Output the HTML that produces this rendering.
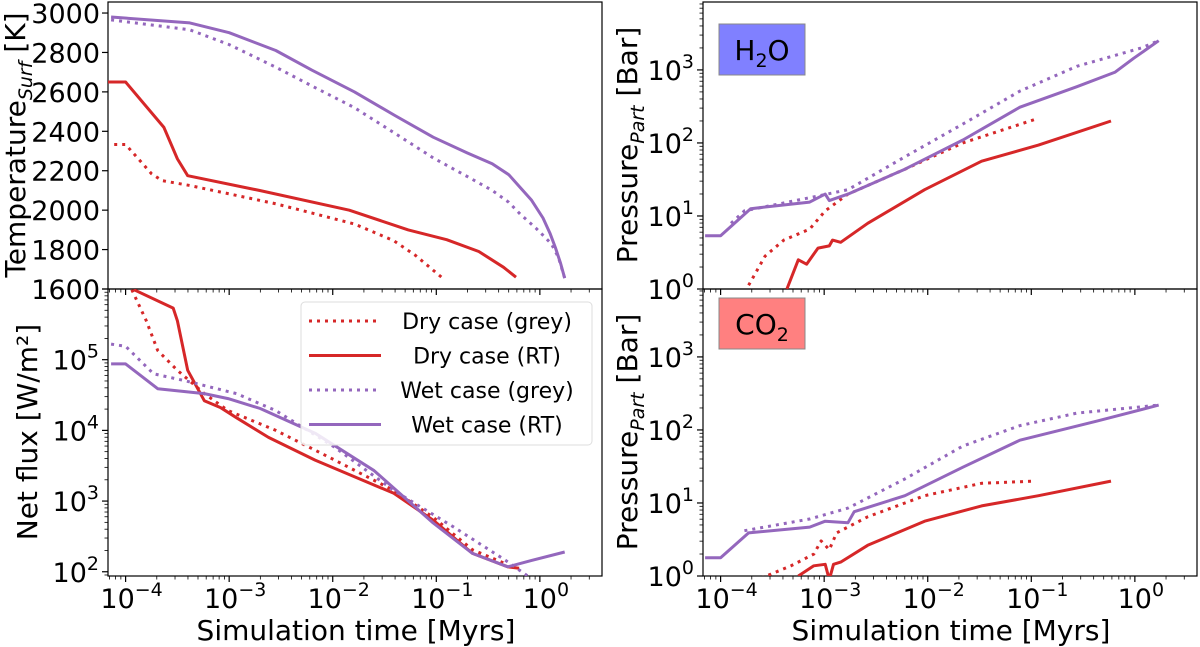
<!DOCTYPE html>
<html><head><meta charset="utf-8"><style>
html,body{margin:0;padding:0;background:#fff;}
svg{display:block;font-family:"DejaVu Sans","Liberation Sans",sans-serif;}
</style></head><body>
<svg id="chart" width="1200" height="647" viewBox="0 0 1200 647" xmlns="http://www.w3.org/2000/svg"></svg>
<script>
// ---- data (x = log10 time [Myrs]) ----
const tDryRTx=[-4.17,-4.0,-3.63,-3.5,-3.4,-2.71,-1.84,-1.27,-0.9,-0.59,-0.35,-0.23];
const tDryRTy=[2650,2650,2420,2260,2175,2100,2000,1900,1850,1790,1710,1660];
const tDryGx=[-4.11,-4.0,-3.75,-3.65,-3.38,-2.55,-1.79,-1.41,-1.2,-0.95];
const tDryGy=[2333,2333,2185,2150,2125,2032,1930,1845,1770,1660];
const tWetRTx=[-4.14,-3.38,-3.0,-2.55,-2.2,-1.79,-1.4,-1.03,-0.7,-0.46,-0.3,-0.19,-0.08,0.03,0.10,0.15,0.20,0.24];
const tWetRTy=[2980,2950,2900,2810,2710,2600,2480,2370,2290,2235,2180,2115,2050,1960,1880,1810,1730,1655];
const tWetGx=[-4.14,-3.38,-3.0,-2.55,-2.2,-1.79,-1.4,-1.03,-0.7,-0.46,-0.3,-0.19,-0.04,0.11,0.18,0.24];
const tWetGy=[2965,2915,2840,2725,2630,2520,2390,2265,2170,2100,2040,1980,1910,1830,1760,1655];

const fDryRTx=[-3.92,-3.54,-3.5,-3.4,-3.24,-3.08,-2.93,-2.62,-2.17,-1.41,-1.03,-0.65,-0.31,-0.2];
const fDryRTy=[5.99,5.73,5.55,4.85,4.42,4.32,4.18,3.90,3.58,3.11,2.73,2.26,2.07,2.05];
const fDryGx=[-3.94,-3.80,-3.69,-3.5,-3.24,-3.01,-2.55,-1.98,-1.41,-1.03,-0.65,-0.34];
const fDryGy=[5.99,5.55,5.13,4.85,4.52,4.28,4.0,3.58,3.15,2.77,2.31,2.12];
const fWetRTx=[-4.14,-4.0,-3.69,-3.24,-3.01,-2.70,-2.17,-1.60,-1.03,-0.65,-0.31,-0.08,0.24];
const fWetRTy=[4.94,4.94,4.59,4.52,4.45,4.31,3.96,3.43,2.69,2.26,2.07,2.16,2.28];
const fWetGx=[-4.14,-4.0,-3.73,-3.42,-2.93,-2.55,-1.98,-1.41,-0.83,-0.34,-0.08];
const fWetGy=[5.22,5.19,4.80,4.70,4.52,4.28,3.76,3.15,2.63,2.17,1.90];

const hWetRTx=[-4.15,-4.0,-3.71,-3.14,-2.99,-2.95,-2.77,-2.22,-1.66,-1.11,-0.56,-0.19,-0.01,0.23];
const hWetRTy=[0.73,0.73,1.10,1.19,1.30,1.21,1.30,1.64,2.04,2.49,2.77,2.97,3.16,3.40];
const hWetGx=[-3.9,-3.77,-3.14,-2.77,-2.22,-1.66,-1.11,-0.56,0.06,0.23];
const hWetGy=[0.9,1.07,1.25,1.36,1.81,2.26,2.71,3.05,3.30,3.40];
const hDryGx=[-3.73,-3.57,-3.39,-3.14,-2.99,-2.77,-2.22,-1.66,-0.97];
const hDryGy=[0.05,0.45,0.67,0.82,1.07,1.30,1.64,2.0,2.32];
const hDryRTx=[-3.36,-3.25,-3.17,-3.06,-2.95,-2.92,-2.84,-2.58,-2.03,-1.48,-0.93,-0.23];
const hDryRTy=[0,0.40,0.34,0.56,0.59,0.67,0.64,0.90,1.36,1.75,1.97,2.30];

const cWetRTx=[-4.15,-4.0,-3.73,-3.14,-2.99,-2.77,-2.71,-2.22,-1.66,-1.11,-0.37,0.23];
const cWetRTy=[0.25,0.25,0.59,0.67,0.75,0.73,0.88,1.10,1.49,1.86,2.12,2.34];
const cWetGx=[-3.77,-3.14,-2.77,-2.22,-1.66,-1.11,-0.56,0.23];
const cWetGy=[0.62,0.78,0.93,1.33,1.78,2.06,2.23,2.34];
const cDryGx=[-3.61,-3.32,-3.10,-3.03,-2.95,-2.88,-2.58,-2.03,-1.48,-0.97];
const cDryGy=[-0.03,0.14,0.30,0.48,0.36,0.59,0.81,1.10,1.27,1.30];
const cDryRTx=[-3.25,-3.10,-2.99,-2.95,-2.91,-2.84,-2.58,-2.03,-1.48,-0.93,-0.23];
const cDryRTy=[0,0.14,0.16,-0.05,0.16,0.19,0.42,0.75,0.96,1.10,1.30];

const tempTicks=[1600,1800,2000,2200,2400,2600,2800,3000];
const fluxTicks=[2,3,4,5];
const presTicks=[0,1,2,3];
const timeTicks=[-4,-3,-2,-1,0];
const legendLabels=["Dry case (grey)","Dry case (RT)","Wet case (grey)","Wet case  (RT)"];

const RED="#d62728", PUR="#9467bd";
const NS="http://www.w3.org/2000/svg";
const svg=document.getElementById('chart');
function el(tag,attrs,parent){const e=document.createElementNS(NS,tag);for(const k in attrs)e.setAttribute(k,attrs[k]);(parent||svg).appendChild(e);return e;}

const XMIN=-4.17, XMAX=0.6;
function panel(id,x0,y0,w,h,ymin,ymax){
  const p={x0,y0,w,h,ymin,ymax,id};
  p.sx=v=>x0+(v-XMIN)/(XMAX-XMIN)*w;
  p.sy=v=>y0+h-(v-p.ymin)/(p.ymax-p.ymin)*h;
  const cp=el('clipPath',{id:'clip-'+id});
  el('rect',{x:x0,y:y0,width:w,height:h},cp);
  return p;
}
const PL=108, PR=703, PW=494, T0=2, T1=289, PH=287;
const pT=panel('temp',PL,T0,PW,PH,1600,3000+(11/39.3)*200);
const pF=panel('flux',PL,T1,PW,PH,1.94,6.0);
const pH=panel('h2o',PR,T0,PW,PH,0,3.93);
const pC=panel('co2',PR,T1,PW,PH,0,3.93);

function series(p,xs,ys,color,dotted,name){
  const g=el('g',{'clip-path':'url(#clip-'+p.id+')'});
  const pts=xs.map((x,i)=>p.sx(x).toFixed(1)+','+p.sy(ys[i]).toFixed(1)).join(' ');
  const a={points:pts,fill:'none',stroke:color,'stroke-width':3,'stroke-linejoin':'round'};
  if(dotted){a['stroke-dasharray']='3,5';}
  const pl=el('polyline',a,g);
  
  
}
function supText(x,y,exp,anchor,name){
  const t=el('text',{x:x,y:y,'font-size':27,'text-anchor':anchor,fill:'#000'});
  
  
  const a=el('tspan',{},t);a.textContent='10';
  const b=el('tspan',{dy:-12,'font-size':19},t);b.textContent=(exp<0?'\u2212':'')+Math.abs(exp);
  return t;
}
function xAxis(p,labels){
  for(let d=-5;d<=1;d++){for(let m=1;m<10;m++){const v=d+Math.log10(m);if(v<XMIN||v>XMAX)continue;
    const x=p.sx(v);el('line',{x1:x,x2:x,y1:p.y0+p.h,y2:p.y0+p.h+(m==1?6:3.5),stroke:'#000','stroke-width':m==1?1.2:0.8});}}
  if(labels){timeTicks.forEach(t=>{supText(p.sx(t)+6,p.y0+p.h+32,t,'middle','x-tick-label');});}
}
function logYAxis(p,ticks){
  for(let d=Math.floor(p.ymin);d<=Math.ceil(p.ymax);d++){for(let m=1;m<10;m++){const v=d+Math.log10(m);if(v<p.ymin-0.001||v>p.ymax)continue;
    const y=p.sy(v);el('line',{x1:p.x0-(m==1?6:3.5),x2:p.x0,y1:y,y2:y,stroke:'#000','stroke-width':m==1?1.2:0.8});}}
  ticks.forEach(t=>{supText(p.x0-9,p.sy(t)+10,t,'end','y-tick-label');});
}
[pT,pF,pH,pC].forEach(p=>{const r=el('rect',{x:p.x0,y:p.y0,width:p.w,height:p.h,fill:'none',stroke:'#000','stroke-width':1.2});
  });
tempTicks.forEach(t=>{const y=pT.sy(t);el('line',{x1:PL-6,x2:PL,y1:y,y2:y,stroke:'#000','stroke-width':1.2});
  const tx=el('text',{x:PL-8,y:y+10,'font-size':27,'text-anchor':'end'});tx.textContent=t;
  });
logYAxis(pF,fluxTicks);logYAxis(pH,presTicks);logYAxis(pC,presTicks);
xAxis(pT,false);xAxis(pF,true);xAxis(pH,false);xAxis(pC,true);

series(pT,tDryGx,tDryGy,RED,true,'temp-dry-grey');series(pT,tDryRTx,tDryRTy,RED,false,'temp-dry-rt');
series(pT,tWetGx,tWetGy,PUR,true,'temp-wet-grey');series(pT,tWetRTx,tWetRTy,PUR,false,'temp-wet-rt');
series(pF,fDryGx,fDryGy,RED,true,'flux-dry-grey');series(pF,fDryRTx,fDryRTy,RED,false,'flux-dry-rt');
series(pF,fWetGx,fWetGy,PUR,true,'flux-wet-grey');series(pF,fWetRTx,fWetRTy,PUR,false,'flux-wet-rt');
series(pH,hDryGx,hDryGy,RED,true,'h2o-dry-grey');series(pH,hDryRTx,hDryRTy,RED,false,'h2o-dry-rt');
series(pH,hWetGx,hWetGy,PUR,true,'h2o-wet-grey');series(pH,hWetRTx,hWetRTy,PUR,false,'h2o-wet-rt');
series(pC,cDryGx,cDryGy,RED,true,'co2-dry-grey');series(pC,cDryRTx,cDryRTy,RED,false,'co2-dry-rt');
series(pC,cWetGx,cWetGy,PUR,true,'co2-wet-grey');series(pC,cWetRTx,cWetRTy,PUR,false,'co2-wet-rt');

// legend
const lg=el('g',{});

el('rect',{x:301,y:302,width:291,height:143,rx:4,fill:'#fff','fill-opacity':0.85,stroke:'#ddd','stroke-width':1},lg);
const lcol=[RED,RED,PUR,PUR], ldot=[true,false,true,false];
legendLabels.forEach((lab,i)=>{const y=321+i*34.5;
  const a={x1:309,x2:381,y1:y,y2:y,stroke:lcol[i],'stroke-width':3};if(ldot[i])a['stroke-dasharray']='3,5';
  el('line',a,lg);
  const t=el('text',{x:487,y:y+8,'font-size':22,'text-anchor':'middle'},lg);t.textContent=lab;
  });

function box(x,y,color,main,sub,tail,name){
  const g=el('g',{});
  el('rect',{x:x,y:y,width:86,height:51,fill:color,stroke:'#888','stroke-width':1},g);
  const t=el('text',{x:x+43,y:y+36,'font-size':28,'text-anchor':'middle'},g);
  const a=el('tspan',{},t);a.textContent=main;const b=el('tspan',{dy:7,'font-size':19},t);b.textContent=sub;
  if(tail){const c=el('tspan',{dy:-7},t);c.textContent=tail;}
}
box(719,24,'#8080ff','H','2','O','h2o-label-box');
box(719,298,'#ff8080','CO','2','','co2-label-box');

function ytitle(x,y,main,sub,tail,name){
  const t=el('text',{x:0,y:0,'font-size':28,'text-anchor':'middle',transform:`translate(${x},${y}) rotate(-90)`});
  
  const a=el('tspan',{},t);a.textContent=main;
  if(sub){const b=el('tspan',{dy:7,'font-size':19,'font-style':'italic'},t);b.textContent=sub;
  const c=el('tspan',{dy:-7},t);c.textContent=tail;}
}
ytitle(25,145,'Temperature','Surf',' [K]','temp-y-axis-title');
ytitle(37,432,'Net flux [W/m\u00b2]','','','flux-y-axis-title');
ytitle(637,145,'Pressure','Part',' [Bar]','h2o-y-axis-title');
ytitle(637,432,'Pressure','Part',' [Bar]','co2-y-axis-title');
[[356,'left'],[951,'right']].forEach(([x,s])=>{const t=el('text',{x:x,y:640,'font-size':28,'text-anchor':'middle'});t.textContent='Simulation time [Myrs]';
  });
</script>
</body></html>
